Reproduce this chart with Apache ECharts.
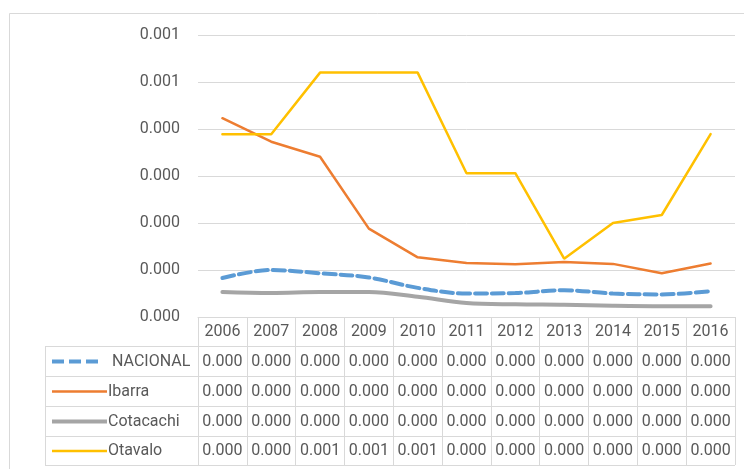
<!DOCTYPE html>
<html>
<head>
<meta charset="utf-8">
<script src="https://cdn.jsdelivr.net/npm/echarts@6/dist/echarts.min.js"></script>
<style>
  html, body { margin: 0; padding: 0; background: #fff; }
  #chart { width: 744px; height: 469px; }
</style>
</head>
<body>
<div id="chart"></div>
<script>
const years = ['2006', '2007', '2008', '2009', '2010', '2011', '2012', '2013', '2014', '2015', '2016']
const nacional = [0.000083, 0.0001, 0.000093, 0.000084, 0.000062, 0.00005, 0.000051, 0.000057, 0.00005, 0.000048, 0.000055]
const ibarra = [0.000423, 0.000373, 0.000341, 0.000188, 0.000127, 0.000115, 0.000112, 0.000117, 0.000113, 0.000093, 0.000114]
const cotacachi = [0.000053, 0.000051, 0.000053, 0.000053, 0.000043, 0.00003, 0.000027, 0.000026, 0.000024, 0.000023, 0.000023]
const otavalo = [0.000389, 0.000389, 0.00052, 0.00052, 0.00052, 0.000306, 0.000306, 0.000124, 0.0002, 0.000217, 0.000389]
const yTickLabels = ['0.000', '0.000', '0.000', '0.000', '0.000', '0.001', '0.001']

const textColor = '#595959'
const borderColor = '#d9d9d9'
const font = '16px Roboto'

const seriesDefs = [
  {name: 'NACIONAL', data: nacional, color: '#5B9BD5', width: 4, dash: [12, 5], smooth: 0.35, keyEnd: 99, textX: 112},
  {name: 'Ibarra', data: ibarra, color: '#ED7D31', width: 2.5, dash: 'solid', smooth: false, keyEnd: 107, textX: 108},
  {name: 'Cotacachi', data: cotacachi, color: '#A5A5A5', width: 4, dash: 'solid', smooth: 0.35, keyEnd: 107, textX: 108},
  {name: 'Otavalo', data: otavalo, color: '#FFC000', width: 2.5, dash: 'solid', smooth: false, keyEnd: 107, textX: 108}
]

// table geometry (Excel-style data table under the plot)
const gridLeft = 198, gridRight = 735, gridTop = 35, gridBottom = 317
const tableLeft = 45
const rowLines = [346, 376, 406, 436, 465]

const fmt = v => (Math.round(v * 1000) / 1000).toFixed(3)

const chart = echarts.init(document.getElementById('chart'))

chart.setOption({
  animation: false,
  backgroundColor: '#fff',
  grid: {left: gridLeft, right: 744 - gridRight, top: gridTop, bottom: 469 - gridBottom, containLabel: false},
  xAxis: {
    type: 'category',
    data: years,
    boundaryGap: true,
    axisLine: {show: true, lineStyle: {color: borderColor, width: 1}},
    axisTick: {show: true, length: rowLines[rowLines.length - 1] - gridBottom, lineStyle: {color: borderColor}},
    axisLabel: {color: textColor, fontFamily: 'Roboto', fontSize: 16, margin: 7, interval: 0}
  },
  yAxis: {
    type: 'value',
    min: 0,
    max: 0.0006,
    interval: 0.0001,
    axisLine: {show: false},
    axisTick: {show: false},
    axisLabel: {
      color: textColor, fontFamily: 'Roboto', fontSize: 16, margin: 18,
      formatter: (v, i) => yTickLabels[i]
    },
    splitLine: {lineStyle: {color: borderColor, width: 1}}
  },
  series: seriesDefs.map(s => ({
    name: s.name,
    type: 'line',
    data: s.data,
    smooth: s.smooth,
    symbol: 'none',
    lineStyle: {color: s.color, width: s.width, type: s.dash, cap: 'round'},
    itemStyle: {color: s.color}
  }))
})

const graphics = []

// outer chart border
graphics.push({
  type: 'rect', silent: true,
  shape: {x: 9.5, y: 13.5, width: 800, height: 600},
  style: {fill: null, stroke: borderColor, lineWidth: 1}
})

// row lines + left border of the table
rowLines.forEach(y => {
  graphics.push({
    type: 'line', silent: true,
    shape: {x1: tableLeft, y1: y + 0.5, x2: gridRight, y2: y + 0.5},
    style: {stroke: borderColor, lineWidth: 1}
  })
})
graphics.push({
  type: 'line', silent: true,
  shape: {x1: tableLeft + 0.5, y1: rowLines[0], x2: tableLeft + 0.5, y2: rowLines[rowLines.length - 1]},
  style: {stroke: borderColor, lineWidth: 1}
})

seriesDefs.forEach((s, r) => {
  const cy = (rowLines[r] + rowLines[r + 1]) / 2 + 0.5
  // legend key
  graphics.push({
    type: 'line', silent: true,
    shape: {x1: 52, y1: cy, x2: s.keyEnd, y2: cy},
    style: {stroke: s.color, lineWidth: s.width, lineDash: Array.isArray(s.dash) ? s.dash : null}
  })
  graphics.push({
    type: 'text', silent: true,
    style: {text: s.name, x: s.textX, y: cy, fill: textColor, font: font, textAlign: 'left', textVerticalAlign: 'middle'}
  })
  // values
  years.forEach((yr, i) => {
    const cx = chart.convertToPixel({xAxisIndex: 0}, yr)
    graphics.push({
      type: 'text', silent: true,
      style: {text: fmt(s.data[i]), x: cx, y: cy, fill: textColor, font: font, textAlign: 'center', textVerticalAlign: 'middle'}
    })
  })
})

chart.setOption({graphic: graphics})
</script>
</body>
</html>
